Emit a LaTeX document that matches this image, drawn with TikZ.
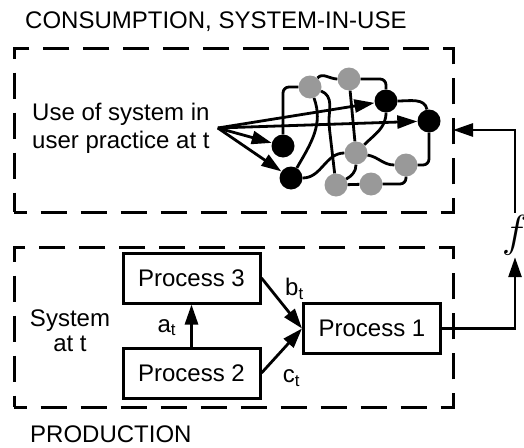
\documentclass[tikz,border=0pt]{standalone}
\usepackage{fontspec}
\setmainfont{Liberation Sans}
\usetikzlibrary{arrows.meta}

\tikzset{
  zone/.style={draw,line width=3pt,dash pattern=on 26.7pt off 13.3pt,dash phase=13.3pt,
    minimum width=439pt,inner sep=0pt,outer sep=0pt},
  proc/.style={draw,line width=3pt,minimum width=137pt,minimum height=50pt,inner sep=0pt},
  conn/.style={line width=2.8pt,-{Triangle[length=20pt,width=13pt]}},
  link/.style={line width=2.8pt,rounded corners=6pt},
  blk/.style={circle,fill=black,minimum size=23pt,inner sep=0pt},
  gry/.style={circle,fill=black!40,minimum size=23pt,inner sep=0pt},
  lbl/.style={inner sep=2pt}
}

\begin{document}
\begin{tikzpicture}[x=1pt,y=-1pt,font=\fontsize{24}{28}\selectfont]
  \useasboundingbox (0,0) rectangle (524,447);

  % Dashed zones
  \node[zone,minimum height=164pt] (consum) at (233.5,130) {};
  \node[zone,minimum height=160pt] (prod) at (233.5,327) {};
  \node[anchor=base west,inner sep=0pt] (consumlbl) at (25,28) {CONSUMPTION, SYSTEM-IN-USE};
  \node[anchor=base west,inner sep=0pt] (prodlbl) at (30,442) {PRODUCTION};

  % Consumption: system in use
  \node[align=left,anchor=west,inner sep=8pt] (use) at (24,128) {Use of system in\\user practice at t};
  \foreach \n/\x/\y in {g1/310/87,g2/349/79,g3/356/153,g4/406/165,g5/336/185,g6/371/184}
    \node[gry] (\n) at (\x,\y) {};
  \foreach \n/\x/\y in {k1/386/101,k2/429/121,k3/283/146,k4/291/178}
    \node[blk] (\n) at (\x,\y) {};

  % Links between practices
  \draw[link] (k3) |- (g1);
  \draw[link] (g1) to[out=50,in=180] (g2);
  \draw[link] (g2) -| (k1);
  \draw[link] (g2) -- (g3);
  \draw[link] (g1) to[out=-70,in=60] (k4);
  \draw[link] (g1) to[out=-20,in=90] (329,125) -- (g5);
  \draw[link] (k1) to[out=0,in=100] (k2);
  \draw[link] (k1) to[out=-90,in=45] (g3);
  \draw[link] (k2) |- (g4);
  \draw[link] (g3) to[out=-10,in=180] (g4);
  \draw[link] (g4) |- (g6);
  \draw[link] (g5) -- (g6);
  \draw[link] (g5) to[out=30,in=-90] (g3);
  \draw[link] (k4) to[out=0,in=180] (g3);

  \foreach \k in {k1,k2,k3,k4}
    \draw[conn] (use.east) -- (\k);

  % Production: processes
  \node[align=center,font=\fontsize{24}{25}\selectfont] (sys) at (70,331) {System\\at t};
  \node[proc] (p3) at (191.5,278) {Process 3};
  \node[proc] (p2) at (191.5,373) {Process 2};
  \node[proc] (p1) at (372,328.5) {Process 1};
  \draw[conn] (p2) -- (p3) node[lbl,midway,anchor=east,xshift=-12pt,yshift=-2pt] {a\textsubscript{t}};
  \draw[conn] (p3.east) -- (p1.west) node[lbl,midway,anchor=south west] {b\textsubscript{t}};
  \draw[conn] (p2.east) -- (p1.west) node[lbl,pos=0.15,anchor=north west,xshift=12pt] {c\textsubscript{t}};

  % Feedback to use
  \node[inner sep=0pt,minimum height=44pt] (fl) at (515,235) {\scalebox{1.8}{$f$}};
  \draw[conn] (p1.east) -| (fl.south);
  \draw[conn] (fl.north) |- (consum.east);
\end{tikzpicture}
\end{document}
